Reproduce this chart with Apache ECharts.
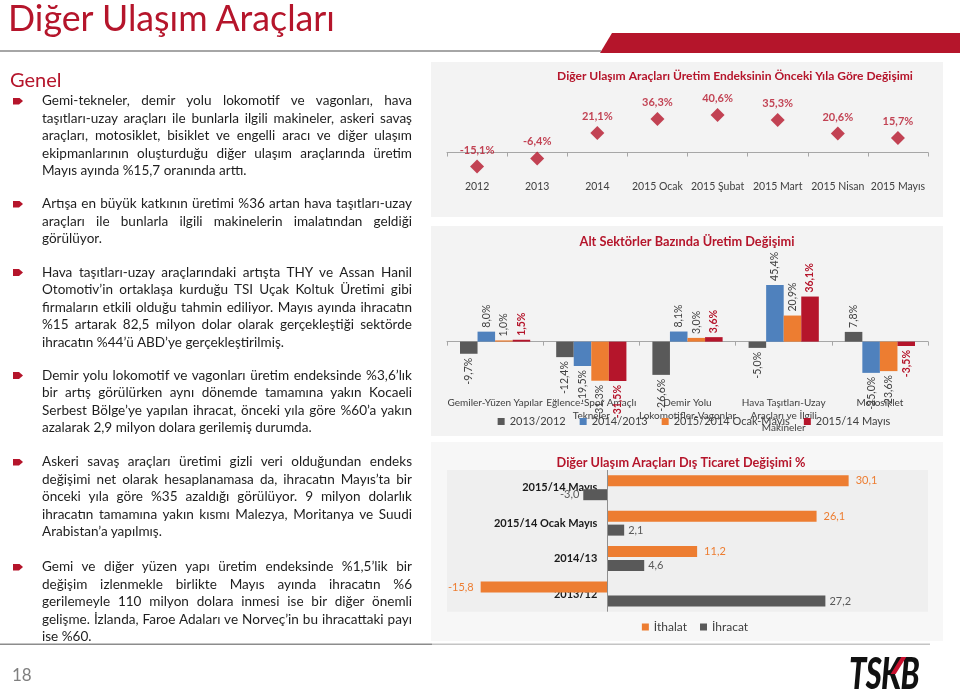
<!DOCTYPE html>
<html><head><meta charset="utf-8">
<script src="https://cdn.jsdelivr.net/npm/echarts@6/dist/echarts.min.js"></script>
<style>
html,body{margin:0;padding:0;background:#fff;}
#stage{position:relative;width:960px;height:691px;overflow:hidden;font-family:Lato,'Open Sans',sans-serif;}
#chart{position:absolute;left:0;top:0;width:960px;height:691px;}
.abs{position:absolute;white-space:nowrap;}
#title{left:8px;color:#b5152b;font-weight:400;line-height:1;}
#genel{left:10px;top:69px;font-size:20px;line-height:1;color:#b5152b;}
.para{position:absolute;left:42px;width:370px;color:#1e1e1e;}
.para .ln{display:block;height:17.6px;line-height:17.6px;white-space:nowrap;text-align:justify;text-align-last:justify;}
.para .ln.last{text-align-last:left;}
.bul{position:absolute;left:13px;width:10px;height:7px;background:#b5152b;clip-path:polygon(0 0,60% 0,100% 50%,60% 100%,0 100%);}
#pnum{left:12px;top:665px;font-size:17px;color:#7f7f7f;line-height:20px;}
#logo{left:849px;top:651px;font-size:43px;font-weight:900;font-style:italic;color:#111;line-height:43px;transform:scaleX(0.72);transform-origin:0 0;letter-spacing:-1px;}
#logored{left:896px;top:657px;width:5px;height:17px;background:#c8102e;transform:skewX(-32deg);}
</style></head>
<body>
<div id="stage">
  <div id="chart"></div>
  <div id="title" class="abs">Diğer Ulaşım Araçları</div>
  <div id="genel" class="abs">Genel</div>

  <div class="bul" style="top:97.5px"></div>
  <div class="para" style="top:92px">
    <span class="ln">Gemi-tekneler, demir yolu lokomotif ve vagonları, hava</span>
    <span class="ln">taşıtları-uzay araçları ile bunlarla ilgili makineler, askeri savaş</span>
    <span class="ln">araçları, motosiklet, bisiklet ve engelli aracı ve diğer ulaşım</span>
    <span class="ln">ekipmanlarının oluşturduğu diğer ulaşım araçlarında üretim</span>
    <span class="ln last">Mayıs ayında %15,7 oranında arttı.</span>
  </div>

  <div class="bul" style="top:200.5px"></div>
  <div class="para" style="top:195px">
    <span class="ln">Artışa en büyük katkının üretimi %36 artan hava taşıtları-uzay</span>
    <span class="ln">araçları ile bunlarla ilgili makinelerin imalatından geldiği</span>
    <span class="ln last">görülüyor.</span>
  </div>

  <div class="bul" style="top:269px"></div>
  <div class="para" style="top:263.5px">
    <span class="ln">Hava taşıtları-uzay araçlarındaki artışta THY ve Assan Hanil</span>
    <span class="ln">Otomotiv’in ortaklaşa kurduğu TSI Uçak Koltuk Üretimi gibi</span>
    <span class="ln">firmaların etkili olduğu tahmin ediliyor. Mayıs ayında ihracatın</span>
    <span class="ln">%15 artarak 82,5 milyon dolar olarak gerçekleştiği sektörde</span>
    <span class="ln last">ihracatın %44’ü ABD’ye gerçekleştirilmiş.</span>
  </div>

  <div class="bul" style="top:372px"></div>
  <div class="para" style="top:366.5px">
    <span class="ln">Demir yolu lokomotif ve vagonları üretim endeksinde %3,6’lık</span>
    <span class="ln">bir artış görülürken aynı dönemde tamamına yakın Kocaeli</span>
    <span class="ln">Serbest Bölge’ye yapılan ihracat, önceki yıla göre %60’a yakın</span>
    <span class="ln last">azalarak 2,9 milyon dolara gerilemiş durumda.</span>
  </div>

  <div class="bul" style="top:458.5px"></div>
  <div class="para" style="top:453px">
    <span class="ln">Askeri savaş araçları üretimi gizli veri olduğundan endeks</span>
    <span class="ln">değişimi net olarak hesaplanamasa da, ihracatın Mayıs’ta bir</span>
    <span class="ln">önceki yıla göre %35 azaldığı görülüyor. 9 milyon dolarlık</span>
    <span class="ln">ihracatın tamamına yakın kısmı Malezya, Moritanya ve Suudi</span>
    <span class="ln last">Arabistan’a yapılmış.</span>
  </div>

  <div class="bul" style="top:563.5px"></div>
  <div class="para" style="top:558px">
    <span class="ln">Gemi ve diğer yüzen yapı üretim endeksinde %1,5’lik bir</span>
    <span class="ln">değişim izlenmekle birlikte Mayıs ayında ihracatın %6</span>
    <span class="ln">gerilemeyle 110 milyon dolara inmesi ise bir diğer önemli</span>
    <span class="ln">gelişme. İzlanda, Faroe Adaları ve Norveç’in bu ihracattaki payı</span>
    <span class="ln last">ise %60.</span>
  </div>

  <div id="pnum" class="abs">18</div>
  <div id="logo" class="abs">TSKB</div>
  <div id="logored" class="abs"></div>
</div>
<script>
// ---------- DATA ----------
const trendCategories = ['2012', '2013', '2014', '2015 Ocak', '2015 Şubat', '2015 Mart', '2015 Nisan', '2015 Mayıs'];
const trendValues = [-15.1, -6.4, 21.1, 36.3, 40.6, 35.3, 20.6, 15.7];

const sectorCategories = ['Gemiler-Yüzen Yapılar', 'Eğlence-Spor Amaçlı\nTekneler', 'Demir Yolu\nLokomotifler-Vagonlar', 'Hava Taşıtları-Uzay\nAraçları ve İlgili\nMakineler', 'Motosiklet'];
const sectorLegend = ['2013/2012', '2014/2013', '2015/2014 Ocak-Mayıs', '2015/14 Mayıs'];
const sector2013_2012 = [-9.7, -12.4, -26.6, -5.0, 7.8];
const sector2014_2013 = [8.0, -19.5, 8.1, 45.4, -25.0];
const sector2015_2014OcakMayis = [1.0, -31.3, 3.0, 20.9, -23.6];
const sector2015_14Mayis = [1.5, -31.5, 3.6, 36.1, -3.5];

const tradeCategories = ['2015/14 Mayıs', '2015/14 Ocak Mayıs', '2014/13', '2013/12'];
const tradeLegend = ['İthalat', 'İhracat'];
const tradeImports = [30.1, 26.1, 11.2, -15.8];
const tradeExports = [-3.0, 2.1, 4.6, 27.2];

const chartTitles = [
  'Diğer Ulaşım Araçları Üretim Endeksinin Önceki Yıla Göre Değişimi',
  'Alt Sektörler Bazında Üretim Değişimi',
  'Diğer Ulaşım Araçları Dış Ticaret Değişimi %'
];

// ---------- STYLE ----------
const FONT = 'Lato';
const RED = '#b5152b', GRAY = '#595959', BLUE = '#4f81bd', ORANGE = '#ed7d31';
const fmtPct = v => v.toFixed(1).replace('.', ',') + '%';
const fmtNum = v => v.toFixed(1).replace('.', ',');

const mctx = document.createElement('canvas').getContext('2d');
function textW(t, font) { mctx.font = font; return mctx.measureText(t).width; }
function fitSize(t, weight, target) { return 100 * target / textW(t, weight + ' 100px ' + FONT); }

// header title fit
(function () {
  const el = document.getElementById('title');
  const fs = fitSize(el.textContent, '400', 329);
  el.style.fontSize = fs + 'px';
  el.style.top = (32 - 0.887 * fs) + 'px';
})();
// paragraph font fit
(function () {
  const base = 14.8;
  let maxW = 0;
  document.querySelectorAll('.para .ln:not(.last)').forEach(l => {
    maxW = Math.max(maxW, textW(l.textContent, base + 'px ' + FONT));
  });
  const fs = Math.min(base, base * 367 / maxW);
  document.querySelectorAll('.para').forEach(p => p.style.fontSize = fs + 'px');
})();

function legendLeft(names, fs, iw, gap, center) {
  let w = 0;
  names.forEach((n, i) => { w += iw + 5 + textW(n, fs + 'px ' + FONT) + (i ? gap : 0); });
  return center - w / 2;
}

const t1 = fitSize(chartTitles[0], 'bold', 356);
const t2 = fitSize(chartTitles[1], 'bold', 215);
const t3 = fitSize(chartTitles[2], 'bold', 249);

function titleText(t, fs, cx, cy) {
  return { type: 'text', x: cx, y: cy, z: 5,
    style: { text: t, fill: RED, font: 'bold ' + fs + 'px ' + FONT,
      textAlign: 'center', align: 'center', textVerticalAlign: 'middle', verticalAlign: 'middle' } };
}

const sectorColors = [GRAY, BLUE, ORANGE, RED];
const sectorValues = [sector2013_2012, sector2014_2013, sector2015_2014OcakMayis, sector2015_14Mayis];

// trade chart geometry: value axis range and the zero position used to place the category axis
const tradeGrid = { left: 447, top: 470, width: 481, height: 141.7 };
const tradeMin = -20, tradeMax = 40;
const tradeZeroOffset = -(0 - tradeMin) / (tradeMax - tradeMin) * tradeGrid.width;

const chart = echarts.init(document.getElementById('chart'));
chart.setOption({
  animation: false,
  backgroundColor: '#ffffff',
  textStyle: { fontFamily: FONT },
  graphic: [
    { type: 'rect', z: -10, shape: { x: 431, y: 62, width: 512, height: 155 }, style: { fill: '#f3f3f3' } },
    { type: 'rect', z: -10, shape: { x: 431, y: 226, width: 512, height: 210 }, style: { fill: '#f3f3f3' } },
    { type: 'rect', z: -10, shape: { x: 431, y: 442, width: 512, height: 199 }, style: { fill: '#f7f7f7' } },
    { type: 'polygon', z: -5, shape: { points: [[612, 33], [960, 33], [960, 53], [600, 53]] }, style: { fill: RED } },
    { type: 'rect', z: -5, shape: { x: 0, y: 50, width: 601, height: 2 }, style: { fill: '#a6a6a6' } },
    { type: 'rect', z: -5, shape: { x: 0, y: 643.5, width: 432, height: 1.5 }, style: { fill: '#8c8c8c' } },
    { type: 'rect', z: -5, shape: { x: 432, y: 643.5, width: 498, height: 1.5 }, style: { fill: '#c4c4c4' } },
    titleText(chartTitles[0], t1, 735, 76),
    titleText(chartTitles[1], t2, 687, 242),
    titleText(chartTitles[2], t3, 681, 463)
  ],
  legend: [
    { data: sectorLegend, left: legendLeft(sectorLegend, 11, 7, 14, 689), top: 411, orient: 'horizontal',
      icon: 'rect', itemWidth: 7, itemHeight: 7, itemGap: 14, selectedMode: false,
      textStyle: { fontSize: 11, color: '#404040', fontFamily: FONT } },
    { data: tradeLegend, left: legendLeft(tradeLegend, 12, 7, 13, 690), top: 616, orient: 'horizontal',
      icon: 'rect', itemWidth: 7, itemHeight: 7, itemGap: 13, selectedMode: false,
      textStyle: { fontSize: 12, color: '#404040', fontFamily: FONT } }
  ],
  grid: [
    { left: 447, top: 106.4, width: 481, height: 64.6, outerBoundsMode: 'none' },
    { left: 447, top: 279.2, width: 481, height: 112.4, outerBoundsMode: 'none' },
    Object.assign({ show: true, backgroundColor: '#efefef', borderWidth: 0, outerBoundsMode: 'none' }, tradeGrid)
  ],
  xAxis: [
    { gridIndex: 0, type: 'category', data: trendCategories, boundaryGap: true,
      axisLine: { show: true, onZero: true, lineStyle: { color: '#a6a6a6', width: 1 } },
      axisTick: { show: true, alignWithLabel: false, length: 4, lineStyle: { color: '#a6a6a6' } },
      axisLabel: { interval: 0, color: '#404040', fontSize: 10.5, margin: 10, fontFamily: FONT },
      splitLine: { show: false } },
    { gridIndex: 1, type: 'category', data: sectorCategories, boundaryGap: true,
      axisLine: { show: true, onZero: true, lineStyle: { color: '#a6a6a6', width: 1 } },
      axisTick: { show: true, alignWithLabel: false, length: 4, lineStyle: { color: '#a6a6a6' } },
      axisLabel: { interval: 0, color: '#404040', fontSize: 10, lineHeight: 12.5, margin: 5, fontFamily: FONT, hideOverlap: false },
      splitLine: { show: false } },
    { gridIndex: 2, type: 'value', min: tradeMin, max: tradeMax, show: false }
  ],
  yAxis: [
    { gridIndex: 0, type: 'value', min: -20, max: 50, show: false },
    { gridIndex: 1, type: 'value', min: -40, max: 50, show: false },
    { gridIndex: 2, type: 'category', data: tradeCategories, inverse: true, position: 'left', offset: tradeZeroOffset,
      axisLine: { show: false, onZero: false },
      axisTick: { show: false },
      axisLabel: { interval: 0, color: '#1a1a1a', fontWeight: 'bold', fontSize: 11, margin: 10, fontFamily: FONT },
      splitLine: { show: false } }
  ],
  series: [
    { type: 'scatter', name: 'Üretim Endeksi', xAxisIndex: 0, yAxisIndex: 0, data: trendValues,
      symbol: 'diamond', symbolSize: 14, itemStyle: { color: RED },
      label: { show: true, position: 'top', distance: 4, color: RED, fontWeight: 'bold', fontSize: 11, fontFamily: FONT,
        formatter: p => fmtPct(p.value) } }
  ].concat(sectorValues.map((vals, i) => ({
      type: 'bar', name: sectorLegend[i], xAxisIndex: 1, yAxisIndex: 1,
      barGap: 0, barCategoryGap: '27%', itemStyle: { color: sectorColors[i] },
      data: vals.map(v => ({ value: v, label: { align: v >= 0 ? 'left' : 'right' } })),
      label: { show: true, position: 'outside', rotate: 90, verticalAlign: 'middle', distance: 4,
        fontSize: 10.5, fontFamily: FONT, color: i === 3 ? RED : '#404040', fontWeight: i === 3 ? 'bold' : 'normal',
        formatter: p => fmtPct(p.value) }
  }))).concat([
    { type: 'bar', name: tradeLegend[0], xAxisIndex: 2, yAxisIndex: 2, data: tradeImports,
      barWidth: 11, barGap: '27%', itemStyle: { color: ORANGE },
      label: { show: true, position: 'outside', distance: 7, color: ORANGE, fontSize: 11, fontFamily: FONT,
        formatter: p => fmtNum(p.value) },
      markLine: { silent: true, symbol: 'none', animation: false, label: { show: false },
        lineStyle: { color: '#8f8f8f', type: 'solid', width: 1 }, data: [{ xAxis: 0 }] } },
    { type: 'bar', name: tradeLegend[1], xAxisIndex: 2, yAxisIndex: 2, data: tradeExports,
      barWidth: 11, barGap: '27%', itemStyle: { color: GRAY },
      label: { show: true, position: 'outside', distance: 4, color: '#595959', fontSize: 11, fontFamily: FONT,
        formatter: p => fmtNum(p.value) } }
  ])
});
</script>
</body></html>
